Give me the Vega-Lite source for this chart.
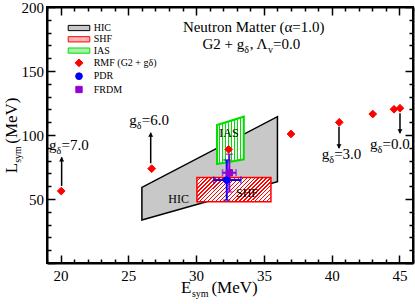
{
  "$schema": "https://vega.github.io/schema/vega-lite/v6.json",
  "width": 366,
  "height": 256,
  "autosize": {"type": "none"},
  "padding": {"left": 47, "top": 7, "right": 2, "bottom": 41},
  "config": {
    "view": {"stroke": "black", "strokeWidth": 2},
    "font": "Liberation Serif",
    "axis": {"domainColor": "black", "domainWidth": 2, "tickColor": "black", "tickWidth": 1.5, "labelFont": "Liberation Serif", "labelFontSize": 15, "labelColor": "black", "grid": false}
  },
  "resolve": {"axis": {"x": "independent", "y": "independent"}},
  "layer": [
    {
      "data": {"values": [{"E": 26.0, "lo": 33.6, "hi": 59.1}, {"E": 36.0, "lo": 63.5, "hi": 114.3}]},
      "mark": {"type": "area", "fill": "#c8c8c8", "stroke": "black", "strokeWidth": 1.5},
      "encoding": {
        "x": {"field": "E", "type": "quantitative", "scale": {"domain": [19, 46], "nice": false, "zero": false},
          "axis": {"orient": "bottom", "title": null, "values": [19,20,21,22,23,24,25,26,27,28,29,30,31,32,33,34,35,36,37,38,39,40,41,42,43,44,45,46],
            "labelExpr": "datum.value % 5 === 0 ? datum.label : ''", "labelOverlap": false, "labelFlush": false,
            "tickSize": {"condition": {"test": "datum.value % 5 === 0", "value": -8}, "value": -4}, "labelPadding": 13}},
        "y": {"field": "lo", "type": "quantitative", "scale": {"domain": [0, 200], "nice": false, "zero": false},
          "axis": {"orient": "left", "title": null, "values": [0,10,20,30,40,50,60,70,80,90,100,110,120,130,140,150,160,170,180,190,200],
            "labelExpr": "datum.value % 50 === 0 && datum.value > 0 ? datum.label : ''", "labelOverlap": false, "labelFlush": false,
            "tickSize": {"condition": {"test": "datum.value % 50 === 0", "value": -8}, "value": -4}, "labelPadding": 11.5}},
        "y2": {"field": "hi"}
      }
    },
    {
      "data": {"values": [{"x1": 30.06, "x2": 35.52, "y1": 47.9, "y2": 66.7}]},
      "mark": {"type": "rect", "stroke": "#ff0000", "strokeWidth": 1.5,
        "fill": {"gradient": "linear", "x1": 0, "y1": 0, "x2": 1.1985, "y2": 0.3904, "stops": [
          {"offset": 0, "color": "#ffffff"}, {"offset": 0.026, "color": "#ffffff"}, {"offset": 0.026, "color": "#ff0000"}, {"offset": 0.04, "color": "#ff0000"},
          {"offset": 0.04, "color": "#ffffff"}, {"offset": 0.066, "color": "#ffffff"}, {"offset": 0.066, "color": "#ff0000"}, {"offset": 0.08, "color": "#ff0000"},
          {"offset": 0.08, "color": "#ffffff"}, {"offset": 0.106, "color": "#ffffff"}, {"offset": 0.106, "color": "#ff0000"}, {"offset": 0.12, "color": "#ff0000"},
          {"offset": 0.12, "color": "#ffffff"}, {"offset": 0.146, "color": "#ffffff"}, {"offset": 0.146, "color": "#ff0000"}, {"offset": 0.16, "color": "#ff0000"},
          {"offset": 0.16, "color": "#ffffff"}, {"offset": 0.186, "color": "#ffffff"}, {"offset": 0.186, "color": "#ff0000"}, {"offset": 0.2, "color": "#ff0000"},
          {"offset": 0.2, "color": "#ffffff"}, {"offset": 0.226, "color": "#ffffff"}, {"offset": 0.226, "color": "#ff0000"}, {"offset": 0.24, "color": "#ff0000"},
          {"offset": 0.24, "color": "#ffffff"}, {"offset": 0.266, "color": "#ffffff"}, {"offset": 0.266, "color": "#ff0000"}, {"offset": 0.28, "color": "#ff0000"},
          {"offset": 0.28, "color": "#ffffff"}, {"offset": 0.306, "color": "#ffffff"}, {"offset": 0.306, "color": "#ff0000"}, {"offset": 0.32, "color": "#ff0000"},
          {"offset": 0.32, "color": "#ffffff"}, {"offset": 0.346, "color": "#ffffff"}, {"offset": 0.346, "color": "#ff0000"}, {"offset": 0.36, "color": "#ff0000"},
          {"offset": 0.36, "color": "#ffffff"}, {"offset": 0.386, "color": "#ffffff"}, {"offset": 0.386, "color": "#ff0000"}, {"offset": 0.4, "color": "#ff0000"},
          {"offset": 0.4, "color": "#ffffff"}, {"offset": 0.426, "color": "#ffffff"}, {"offset": 0.426, "color": "#ff0000"}, {"offset": 0.44, "color": "#ff0000"},
          {"offset": 0.44, "color": "#ffffff"}, {"offset": 0.466, "color": "#ffffff"}, {"offset": 0.466, "color": "#ff0000"}, {"offset": 0.48, "color": "#ff0000"},
          {"offset": 0.48, "color": "#ffffff"}, {"offset": 0.506, "color": "#ffffff"}, {"offset": 0.506, "color": "#ff0000"}, {"offset": 0.52, "color": "#ff0000"},
          {"offset": 0.52, "color": "#ffffff"}, {"offset": 0.546, "color": "#ffffff"}, {"offset": 0.546, "color": "#ff0000"}, {"offset": 0.56, "color": "#ff0000"},
          {"offset": 0.56, "color": "#ffffff"}, {"offset": 0.586, "color": "#ffffff"}, {"offset": 0.586, "color": "#ff0000"}, {"offset": 0.6, "color": "#ff0000"},
          {"offset": 0.6, "color": "#ffffff"}, {"offset": 0.626, "color": "#ffffff"}, {"offset": 0.626, "color": "#ff0000"}, {"offset": 0.64, "color": "#ff0000"},
          {"offset": 0.64, "color": "#ffffff"}, {"offset": 0.666, "color": "#ffffff"}, {"offset": 0.666, "color": "#ff0000"}, {"offset": 0.68, "color": "#ff0000"},
          {"offset": 0.68, "color": "#ffffff"}, {"offset": 0.706, "color": "#ffffff"}, {"offset": 0.706, "color": "#ff0000"}, {"offset": 0.72, "color": "#ff0000"},
          {"offset": 0.72, "color": "#ffffff"}, {"offset": 0.746, "color": "#ffffff"}, {"offset": 0.746, "color": "#ff0000"}, {"offset": 0.76, "color": "#ff0000"},
          {"offset": 0.76, "color": "#ffffff"}, {"offset": 0.786, "color": "#ffffff"}, {"offset": 0.786, "color": "#ff0000"}, {"offset": 0.8, "color": "#ff0000"},
          {"offset": 0.8, "color": "#ffffff"}, {"offset": 0.826, "color": "#ffffff"}, {"offset": 0.826, "color": "#ff0000"}, {"offset": 0.84, "color": "#ff0000"},
          {"offset": 0.84, "color": "#ffffff"}, {"offset": 0.866, "color": "#ffffff"}, {"offset": 0.866, "color": "#ff0000"}, {"offset": 0.88, "color": "#ff0000"},
          {"offset": 0.88, "color": "#ffffff"}, {"offset": 0.906, "color": "#ffffff"}, {"offset": 0.906, "color": "#ff0000"}, {"offset": 0.92, "color": "#ff0000"},
          {"offset": 0.92, "color": "#ffffff"}, {"offset": 0.946, "color": "#ffffff"}, {"offset": 0.946, "color": "#ff0000"}, {"offset": 0.96, "color": "#ff0000"},
          {"offset": 0.96, "color": "#ffffff"}, {"offset": 0.986, "color": "#ffffff"}, {"offset": 0.986, "color": "#ff0000"}, {"offset": 1, "color": "#ff0000"}
        ]}},
      "encoding": {
        "x": {"field": "x1", "type": "quantitative", "scale": {"domain": [19, 46], "nice": false, "zero": false},
          "axis": {"orient": "top", "title": null, "labels": false, "values": [19,20,21,22,23,24,25,26,27,28,29,30,31,32,33,34,35,36,37,38,39,40,41,42,43,44,45,46],
            "tickSize": {"condition": {"test": "datum.value % 5 === 0", "value": -8}, "value": -4}}},
        "x2": {"field": "x2"},
        "y": {"field": "y1", "type": "quantitative", "scale": {"domain": [0, 200], "nice": false, "zero": false},
          "axis": {"orient": "right", "title": null, "labels": false, "values": [0,10,20,30,40,50,60,70,80,90,100,110,120,130,140,150,160,170,180,190,200],
            "tickSize": {"condition": {"test": "datum.value % 50 === 0", "value": -8}, "value": -4}}},
        "y2": {"field": "y2"}
      }
    },
    {
      "data": {"values": [{"E": 31.54, "lo": 77.3, "hi": 107.8}, {"E": 33.52, "lo": 81.0, "hi": 114.3}]},
      "mark": {"type": "area", "stroke": "#00e000", "strokeWidth": 2,
        "fill": {"gradient": "linear", "x1": 0, "y1": 0, "x2": 1, "y2": 0, "stops": [
          {"offset": 0, "color": "#ffffff"}, {"offset": 0.0667, "color": "#ffffff"}, {"offset": 0.0667, "color": "#00e000"}, {"offset": 0.1111, "color": "#00e000"},
          {"offset": 0.1111, "color": "#ffffff"}, {"offset": 0.1778, "color": "#ffffff"}, {"offset": 0.1778, "color": "#00e000"}, {"offset": 0.2222, "color": "#00e000"},
          {"offset": 0.2222, "color": "#ffffff"}, {"offset": 0.2889, "color": "#ffffff"}, {"offset": 0.2889, "color": "#00e000"}, {"offset": 0.3333, "color": "#00e000"},
          {"offset": 0.3333, "color": "#ffffff"}, {"offset": 0.4, "color": "#ffffff"}, {"offset": 0.4, "color": "#00e000"}, {"offset": 0.4444, "color": "#00e000"},
          {"offset": 0.4444, "color": "#ffffff"}, {"offset": 0.5111, "color": "#ffffff"}, {"offset": 0.5111, "color": "#00e000"}, {"offset": 0.5556, "color": "#00e000"},
          {"offset": 0.5556, "color": "#ffffff"}, {"offset": 0.6222, "color": "#ffffff"}, {"offset": 0.6222, "color": "#00e000"}, {"offset": 0.6667, "color": "#00e000"},
          {"offset": 0.6667, "color": "#ffffff"}, {"offset": 0.7333, "color": "#ffffff"}, {"offset": 0.7333, "color": "#00e000"}, {"offset": 0.7778, "color": "#00e000"},
          {"offset": 0.7778, "color": "#ffffff"}, {"offset": 0.8444, "color": "#ffffff"}, {"offset": 0.8444, "color": "#00e000"}, {"offset": 0.8889, "color": "#00e000"},
          {"offset": 0.8889, "color": "#ffffff"}, {"offset": 0.9556, "color": "#ffffff"}, {"offset": 0.9556, "color": "#00e000"}, {"offset": 1, "color": "#00e000"}
        ]}},
      "encoding": {
        "x": {"field": "E", "type": "quantitative", "scale": {"domain": [19, 46], "nice": false, "zero": false}, "axis": null},
        "y": {"field": "lo", "type": "quantitative", "scale": {"domain": [0, 200], "nice": false, "zero": false}, "axis": null},
        "y2": {"field": "hi"}
      }
    },
    {
      "data": {"name": "err", "values": [
        {"series": "PDR", "E": 32.26, "Elo": 31.3, "Ehi": 33.3, "L": 64.8, "Llo": 49.1, "Lhi": 80.5},
        {"series": "FRDM", "E": 32.45, "Elo": 31.95, "Ehi": 32.95, "L": 70.5, "Llo": 55.5, "Lhi": 85.0}
      ]},
      "layer": [
        {
          "mark": {"type": "rule", "strokeWidth": 2},
          "encoding": {
            "x": {"field": "E", "type": "quantitative", "scale": {"domain": [19, 46], "nice": false, "zero": false}, "axis": null},
            "y": {"field": "Llo", "type": "quantitative", "scale": {"domain": [0, 200], "nice": false, "zero": false}, "axis": null},
            "y2": {"field": "Lhi"},
            "stroke": {"condition": {"test": "datum.series === 'PDR'", "value": "#0000ff"}, "value": "#9400d3"}
          }
        },
        {
          "mark": {"type": "rule", "strokeWidth": 2},
          "encoding": {
            "x": {"field": "Elo", "type": "quantitative", "scale": {"domain": [19, 46], "nice": false, "zero": false}, "axis": null},
            "x2": {"field": "Ehi"},
            "y": {"field": "L", "type": "quantitative", "scale": {"domain": [0, 200], "nice": false, "zero": false}, "axis": null},
            "stroke": {"condition": {"test": "datum.series === 'PDR'", "value": "#0000ff"}, "value": "#9400d3"}
          }
        },
        {
          "transform": [{"fold": ["Llo", "Lhi"], "as": ["end", "Lend"]}],
          "mark": {"type": "tick", "orient": "horizontal", "size": 7, "thickness": 1.5},
          "encoding": {
            "x": {"field": "E", "type": "quantitative", "scale": {"domain": [19, 46], "nice": false, "zero": false}, "axis": null},
            "y": {"field": "Lend", "type": "quantitative", "scale": {"domain": [0, 200], "nice": false, "zero": false}, "axis": null},
            "color": {"condition": {"test": "datum.series === 'PDR'", "value": "#0000ff"}, "value": "#9400d3"}
          }
        },
        {
          "transform": [{"fold": ["Elo", "Ehi"], "as": ["end", "Eend"]}],
          "mark": {"type": "tick", "orient": "vertical", "size": 7, "thickness": 1.5},
          "encoding": {
            "x": {"field": "Eend", "type": "quantitative", "scale": {"domain": [19, 46], "nice": false, "zero": false}, "axis": null},
            "y": {"field": "L", "type": "quantitative", "scale": {"domain": [0, 200], "nice": false, "zero": false}, "axis": null},
            "color": {"condition": {"test": "datum.series === 'PDR'", "value": "#0000ff"}, "value": "#9400d3"}
          }
        }
      ]
    },
    {
      "data": {"values": [
        {"series": "RMF (G2 + gδ)", "E": 20.05, "L": 56.2},
        {"series": "RMF (G2 + gδ)", "E": 26.72, "L": 73.7},
        {"series": "RMF (G2 + gδ)", "E": 32.4, "L": 88.8},
        {"series": "RMF (G2 + gδ)", "E": 37.0, "L": 100.8},
        {"series": "RMF (G2 + gδ)", "E": 40.56, "L": 109.9},
        {"series": "RMF (G2 + gδ)", "E": 43.03, "L": 116.4},
        {"series": "RMF (G2 + gδ)", "E": 44.6, "L": 120.1},
        {"series": "RMF (G2 + gδ)", "E": 45.04, "L": 120.9},
        {"series": "PDR", "E": 32.26, "L": 64.8},
        {"series": "FRDM", "E": 32.45, "L": 70.5}
      ]},
      "mark": {"type": "point", "filled": true, "opacity": 1, "strokeWidth": 1},
      "encoding": {
        "x": {"field": "E", "type": "quantitative", "scale": {"domain": [19, 46], "nice": false, "zero": false}, "axis": null},
        "y": {"field": "L", "type": "quantitative", "scale": {"domain": [0, 200], "nice": false, "zero": false}, "axis": null},
        "fill": {"field": "series", "type": "nominal",
          "scale": {"domain": ["HIC", "SHF", "IAS", "RMF (G2 + gδ)", "PDR", "FRDM"], "range": ["#c8c8c8", "#ffb8b8", "#a8f0a8", "#ff0000", "#0000ff", "#9400d3"]},
          "legend": {"orient": "none", "legendX": 27, "legendY": 16, "title": null, "labelFont": "Liberation Serif", "labelFontSize": 10, "labelColor": "black", "padding": 0, "rowPadding": 1.3, "labelOffset": 9.7, "symbolOpacity": 1, "symbolStrokeWidth": 1}},
        "stroke": {"field": "series", "type": "nominal",
          "scale": {"domain": ["HIC", "SHF", "IAS", "RMF (G2 + gδ)", "PDR", "FRDM"], "range": ["#000000", "#ff0000", "#00e000", "#ff0000", "#0000ff", "#9400d3"]},
          "legend": {"orient": "none", "legendX": 27, "legendY": 16, "title": null, "labelFont": "Liberation Serif", "labelFontSize": 10, "labelColor": "black", "padding": 0, "rowPadding": 1.3, "labelOffset": 9.7, "symbolOpacity": 1, "symbolStrokeWidth": 1}},
        "shape": {"field": "series", "type": "nominal",
          "scale": {"domain": ["HIC", "SHF", "IAS", "RMF (G2 + gδ)", "PDR", "FRDM"], "range": ["M-3.05,-0.74H3.05V0.74H-3.05Z", "M-3.05,-0.74H3.05V0.74H-3.05Z", "M-3.05,-0.74H3.05V0.74H-3.05Z", "diamond", "circle", "square"]},
          "legend": {"orient": "none", "legendX": 27, "legendY": 16, "title": null, "labelFont": "Liberation Serif", "labelFontSize": 10, "labelColor": "black", "padding": 0, "rowPadding": 1.3, "labelOffset": 9.7, "symbolOpacity": 1, "symbolStrokeWidth": 1}},
        "size": {"field": "series", "type": "nominal",
          "scale": {"type": "ordinal", "domain": ["HIC", "SHF", "IAS", "RMF (G2 + gδ)", "PDR", "FRDM"], "range": [50, 50, 50, 60, 45, 40]},
          "legend": {"orient": "none", "legendX": 27, "legendY": 16, "title": null, "labelFont": "Liberation Serif", "labelFontSize": 10, "labelColor": "black", "padding": 0, "rowPadding": 1.3, "labelOffset": 9.7, "symbolOpacity": 1, "symbolStrokeWidth": 1}}
      }
    },
    {
      "data": {"name": "arrows", "values": [
        {"E": 20.08, "from": 60.2, "tip": 82.6, "dir": "up"},
        {"E": 26.65, "from": 77.9, "tip": 101.8, "dir": "up"},
        {"E": 40.54, "from": 106.5, "tip": 89.6, "dir": "down"},
        {"E": 45.04, "from": 117.0, "tip": 101.3, "dir": "down"}
      ]},
      "layer": [
        {
          "mark": {"type": "rule", "strokeWidth": 1.5, "color": "black"},
          "encoding": {
            "x": {"field": "E", "type": "quantitative", "scale": {"domain": [19, 46], "nice": false, "zero": false}, "axis": null},
            "y": {"field": "from", "type": "quantitative", "scale": {"domain": [0, 200], "nice": false, "zero": false}, "axis": null},
            "y2": {"field": "tip"}
          }
        },
        {
          "transform": [{"filter": "datum.dir === 'up'"}],
          "mark": {"type": "point", "shape": "triangle-up", "filled": true, "color": "black", "opacity": 1, "size": 25, "yOffset": 2},
          "encoding": {
            "x": {"field": "E", "type": "quantitative", "scale": {"domain": [19, 46], "nice": false, "zero": false}, "axis": null},
            "y": {"field": "tip", "type": "quantitative", "scale": {"domain": [0, 200], "nice": false, "zero": false}, "axis": null}
          }
        },
        {
          "transform": [{"filter": "datum.dir === 'down'"}],
          "mark": {"type": "point", "shape": "triangle-down", "filled": true, "color": "black", "opacity": 1, "size": 25, "yOffset": -2},
          "encoding": {
            "x": {"field": "E", "type": "quantitative", "scale": {"domain": [19, 46], "nice": false, "zero": false}, "axis": null},
            "y": {"field": "tip", "type": "quantitative", "scale": {"domain": [0, 200], "nice": false, "zero": false}, "axis": null}
          }
        }
      ]
    },
    {
      "data": {"values": [
        {"E": 27.95, "L": 46.9, "t": "HIC"},
        {"E": 32.94, "L": 51.6, "t": "SHF"},
        {"E": 31.71, "L": 98.4, "t": "IAS"}
      ]},
      "mark": {"type": "text", "align": "left", "baseline": "alphabetic", "fontSize": 12, "font": "Liberation Serif", "color": "black"},
      "encoding": {
        "x": {"field": "E", "type": "quantitative", "scale": {"domain": [19, 46], "nice": false, "zero": false}, "axis": null},
        "y": {"field": "L", "type": "quantitative", "scale": {"domain": [0, 200], "nice": false, "zero": false}, "axis": null},
        "text": {"field": "t"}
      }
    },
    {
      "data": {"values": [
        {"E": 19.15, "L": 88.1, "val": "=7.0"},
        {"E": 25.07, "L": 108.0, "val": "=6.0"},
        {"E": 39.26, "L": 81.1, "val": "=3.0"},
        {"E": 42.83, "L": 89.4, "val": "=0.0"}
      ]},
      "encoding": {
        "x": {"field": "E", "type": "quantitative", "scale": {"domain": [19, 46], "nice": false, "zero": false}, "axis": null},
        "y": {"field": "L", "type": "quantitative", "scale": {"domain": [0, 200], "nice": false, "zero": false}, "axis": null}
      },
      "layer": [
        {"mark": {"type": "text", "align": "left", "baseline": "alphabetic", "fontSize": 15, "font": "Liberation Serif", "color": "black", "text": "g"}},
        {"mark": {"type": "text", "align": "left", "baseline": "alphabetic", "fontSize": 10, "font": "Liberation Serif", "color": "black", "text": "δ", "dx": 7.5, "dy": 4}},
        {"mark": {"type": "text", "align": "left", "baseline": "alphabetic", "fontSize": 15, "font": "Liberation Serif", "color": "black", "dx": 12.5}, "encoding": {"text": {"field": "val"}}}
      ]
    },
    {
      "data": {"values": [{"E": 34.25, "L": 180.1}]},
      "mark": {"type": "text", "align": "center", "baseline": "alphabetic", "fontSize": 15, "font": "Liberation Serif", "color": "black", "text": "Neutron Matter (α=1.0)"},
      "encoding": {
        "x": {"field": "E", "type": "quantitative", "scale": {"domain": [19, 46], "nice": false, "zero": false}, "axis": null},
        "y": {"field": "L", "type": "quantitative", "scale": {"domain": [0, 200], "nice": false, "zero": false}, "axis": null}
      }
    },
    {
      "data": {"values": [{"E": 33.55, "L": 166.8}]},
      "encoding": {
        "x": {"field": "E", "type": "quantitative", "scale": {"domain": [19, 46], "nice": false, "zero": false}, "axis": null},
        "y": {"field": "L", "type": "quantitative", "scale": {"domain": [0, 200], "nice": false, "zero": false}, "axis": null}
      },
      "layer": [
        {"mark": {"type": "text", "align": "right", "baseline": "alphabetic", "fontSize": 15, "font": "Liberation Serif", "color": "black", "text": "G2 + g"}},
        {"mark": {"type": "text", "align": "left", "baseline": "alphabetic", "fontSize": 10, "font": "Liberation Serif", "color": "black", "text": "δ", "dy": 4}},
        {"mark": {"type": "text", "align": "left", "baseline": "alphabetic", "fontSize": 15, "font": "Liberation Serif", "color": "black", "text": ", Λ", "dx": 5.5}},
        {"mark": {"type": "text", "align": "left", "baseline": "alphabetic", "fontSize": 10, "font": "Liberation Serif", "color": "black", "text": "v", "dx": 23.8, "dy": 4}},
        {"mark": {"type": "text", "align": "left", "baseline": "alphabetic", "fontSize": 15, "font": "Liberation Serif", "color": "black", "text": "=0.0", "dx": 28.8}}
      ]
    },
    {
      "data": {"values": [{"E": 28.88, "L": -23.6}]},
      "encoding": {
        "x": {"field": "E", "type": "quantitative", "scale": {"domain": [19, 46], "nice": false, "zero": false}, "axis": null},
        "y": {"field": "L", "type": "quantitative", "scale": {"domain": [0, 200], "nice": false, "zero": false}, "axis": null}
      },
      "layer": [
        {"mark": {"type": "text", "align": "left", "baseline": "alphabetic", "fontSize": 17, "font": "Liberation Serif", "color": "black", "text": "E"}},
        {"mark": {"type": "text", "align": "left", "baseline": "alphabetic", "fontSize": 10, "font": "Liberation Serif", "color": "black", "text": "sym", "dx": 11, "dy": 4}},
        {"mark": {"type": "text", "align": "left", "baseline": "alphabetic", "fontSize": 17, "font": "Liberation Serif", "color": "black", "text": "(MeV)", "dx": 30.5}}
      ]
    },
    {
      "data": {"values": [{"E": 16.75, "L": 70.1}]},
      "encoding": {
        "x": {"field": "E", "type": "quantitative", "scale": {"domain": [19, 46], "nice": false, "zero": false}, "axis": null},
        "y": {"field": "L", "type": "quantitative", "scale": {"domain": [0, 200], "nice": false, "zero": false}, "axis": null}
      },
      "layer": [
        {"mark": {"type": "text", "align": "left", "baseline": "alphabetic", "angle": 270, "fontSize": 17, "font": "Liberation Serif", "color": "black", "text": "L"}},
        {"mark": {"type": "text", "align": "left", "baseline": "alphabetic", "angle": 270, "fontSize": 10, "font": "Liberation Serif", "color": "black", "text": "sym", "dx": 10.5, "dy": 4}},
        {"mark": {"type": "text", "align": "left", "baseline": "alphabetic", "angle": 270, "fontSize": 17, "font": "Liberation Serif", "color": "black", "text": "(MeV)", "dx": 29.5}}
      ]
    }
  ]
}
